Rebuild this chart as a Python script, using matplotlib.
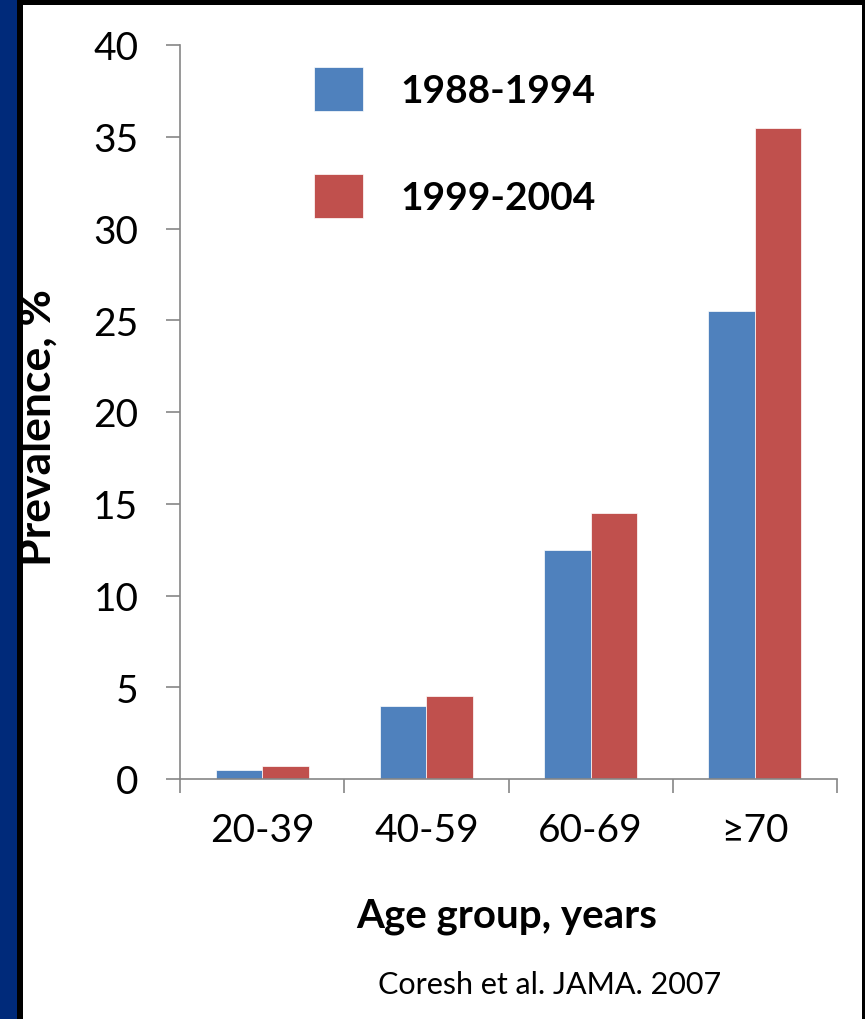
import matplotlib
matplotlib.use("Agg")
import matplotlib.pyplot as plt
from matplotlib.patches import Rectangle
import numpy as np

categories = ["20-39", "40-59", "60-69", "≥70"]
series_names = ["1988-1994", "1999-2004"]
values_1988 = [0.5, 4.0, 12.5, 25.5]
values_1999 = [0.7, 4.5, 14.5, 35.5]
yticks = [0, 5, 10, 15, 20, 25, 30, 35, 40]

W, H = 865, 1020
fig = plt.figure(figsize=(W / 100, H / 100), dpi=100)
fig.patch.set_facecolor("white")
plt.rcParams['font.family'] = ['Lato', 'DejaVu Sans']

def px_rect(x0, y0, x1, y1, color):
    fig.patches.append(Rectangle((x0 / W, 1 - y1 / H), (x1 - x0) / W, (y1 - y0) / H,
                                 transform=fig.transFigure, facecolor=color,
                                 edgecolor='none', zorder=-10))

px_rect(0, 0, W, H, "black")
px_rect(0, 0, 17, H, "#002A7A")
px_rect(23, 6, 862, H, "white")

ax = fig.add_axes([180 / W, 1 - 780 / H, (837 - 180) / W, (780 - 46) / H])
ax.set_facecolor("none")

x = np.arange(len(categories))
bw = 0.283
blue = "#4F81BD"
red = "#C0504D"
ax.bar(x - bw / 2, values_1988, bw, color=blue, edgecolor="white", linewidth=0.5, label=series_names[0])
ax.bar(x + bw / 2, values_1999, bw, color=red, edgecolor="white", linewidth=0.5, label=series_names[1])

FS = 28
ax.set_xlim(-0.5, len(categories) - 0.5)
ax.set_ylim(0, 40)
ax.set_yticks(yticks)
ax.set_yticklabels([str(t) for t in yticks], fontsize=FS)

ax.set_xticks(x)
ax.set_xticklabels(categories, fontsize=FS)
ax.set_xticks(np.arange(len(categories) + 1) - 0.5, minor=True)
ax.tick_params(axis='x', which='major', length=0, pad=24)
ax.tick_params(axis='x', which='minor', length=10, color="#868686", width=1.2, direction='out')
ax.tick_params(axis='y', length=10, color="#868686", width=1.2, direction='out', pad=20)

for s in ["top", "right"]:
    ax.spines[s].set_visible(False)
for s in ["left", "bottom"]:
    ax.spines[s].set_color("#868686")
    ax.spines[s].set_linewidth(1.2)

fig.text(38 / W, 1 - 428 / H, "Prevalence, %", fontsize=32, fontweight='bold',
         rotation=90, ha='center', va='center')
fig.text(507 / W, 1 - 917 / H, "Age group, years", fontsize=29, fontweight='bold',
         ha='center', va='center')
fig.text(550 / W, 1 - 985 / H, "Coresh et al. JAMA. 2007", fontsize=22,
         ha='center', va='center')

ax.legend(loc='upper left', bbox_to_anchor=((314 - 180) / 657, (780 - 68) / 734),
          frameon=False, prop={'weight': 'bold', 'size': FS},
          borderpad=0, borderaxespad=0,
          handlelength=1.27, handleheight=1.35, handletextpad=0.95,
          labelspacing=1.63)

fig.savefig("out.png", dpi=100)
